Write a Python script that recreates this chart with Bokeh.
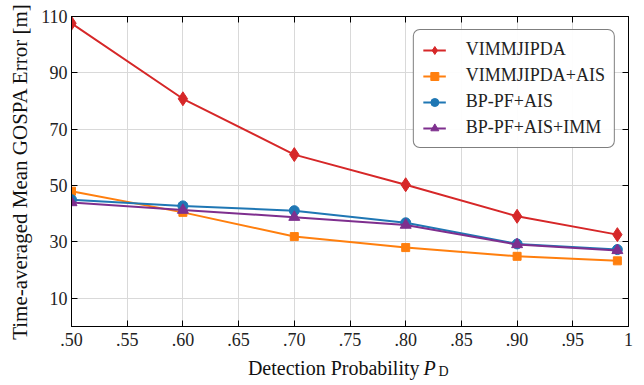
from bokeh.plotting import figure
from bokeh.models import FixedTicker, LinearAxis, Legend, LegendItem, Range1d
from bokeh.layouts import column
from bokeh.core.properties import value
from bokeh.embed import file_html
from bokeh.resources import INLINE

pd_vals = [0.50, 0.60, 0.70, 0.80, 0.90, 0.99]
vimmjipda = [107.6, 80.8, 61.0, 50.3, 39.1, 32.6]
vimmjipda_ais = [48.0, 40.5, 31.9, 28.0, 24.9, 23.3]
bppf_ais = [45.0, 42.8, 41.1, 36.8, 29.3, 27.3]
bppf_ais_imm = [44.0, 41.3, 38.8, 36.0, 29.1, 27.0]

series_labels = ["VIMMJIPDA", "VIMMJIPDA+AIS", "BP-PF+AIS", "BP-PF+AIS+IMM"]

x_ticks = [0.50, 0.55, 0.60, 0.65, 0.70, 0.75, 0.80, 0.85, 0.90, 0.95, 1.00]
x_tick_labels = [".50", ".55", ".60", ".65", ".70", ".75", ".80", ".85", ".90", ".95", "1"]
y_ticks = [10, 30, 50, 70, 90, 110]

x_label_parts = ["Detection Probability", "P", "D"]

FONT = "Liberation Serif"

p = figure(width=644, height=356, x_range=(0.5, 1.0), y_range=(0, 110), title=None,
           output_backend="svg", toolbar_location=None,
           min_border_left=71, min_border_right=16, min_border_top=16, min_border_bottom=30)

p.outline_line_color = "black"
p.outline_line_width = 1

p.xaxis.ticker = FixedTicker(ticks=x_ticks)
p.xaxis.major_label_overrides = {t: l for t, l in zip(x_ticks, x_tick_labels)}
p.yaxis.ticker = FixedTicker(ticks=y_ticks)

for ax in [p.xaxis[0], p.yaxis[0]]:
    ax.major_tick_in = 6
    ax.major_tick_out = 0
    ax.minor_tick_in = 0
    ax.minor_tick_out = 0
    ax.axis_line_color = "black"
    ax.major_tick_line_color = "black"
    ax.major_label_text_font = FONT
    ax.major_label_text_font_size = "18px"
    ax.major_label_text_color = "#222222"

p.xaxis.major_label_standoff = 6
p.yaxis.major_label_standoff = 4

p.yaxis.axis_label = "Time-averaged Mean GOSPA Error [m]"
p.yaxis.axis_label_text_font = FONT
p.yaxis.axis_label_text_font_size = "21px"
p.yaxis.axis_label_text_font_style = "normal"
p.yaxis.axis_label_text_color = "#111111"
p.yaxis.axis_label_standoff = 6

# top and right axes: inward ticks only
top = LinearAxis(ticker=FixedTicker(ticks=x_ticks),
                 major_label_overrides={t: "" for t in x_ticks},
                 major_tick_in=6, major_tick_out=0, minor_tick_in=0, minor_tick_out=0,
                 major_label_standoff=0)
right = LinearAxis(ticker=FixedTicker(ticks=y_ticks),
                   major_label_overrides={t: "" for t in y_ticks},
                   major_tick_in=6, major_tick_out=0, minor_tick_in=0, minor_tick_out=0,
                   major_label_standoff=0)
p.add_layout(top, "above")
p.add_layout(right, "right")

p.xgrid.ticker = FixedTicker(ticks=x_ticks)
p.ygrid.ticker = FixedTicker(ticks=y_ticks)
p.grid.grid_line_color = "#d9d9d9"
p.grid.grid_line_width = 1

red = "#d62728"
orange = "#ff7f0e"
blue = "#1f77b4"
purple = "#7e2f8e"

r1 = p.line(pd_vals, vimmjipda, line_color=red, line_width=2)
m1 = p.scatter(pd_vals, vimmjipda, marker="diamond", size=14, color=red)
r2 = p.line(pd_vals, vimmjipda_ais, line_color=orange, line_width=2)
m2 = p.scatter(pd_vals, vimmjipda_ais, marker="square", size=8, color=orange)
r3 = p.line(pd_vals, bppf_ais, line_color=blue, line_width=2)
m3 = p.scatter(pd_vals, bppf_ais, marker="circle", size=10, color=blue)
r4 = p.line(pd_vals, bppf_ais_imm, line_color=purple, line_width=2)
m4 = p.scatter(pd_vals, bppf_ais_imm, marker="triangle", size=11, color=purple)

legend = Legend(items=[
    LegendItem(label=series_labels[0], renderers=[r1, m1]),
    LegendItem(label=series_labels[1], renderers=[r2, m2]),
    LegendItem(label=series_labels[2], renderers=[r3, m3]),
    LegendItem(label=series_labels[3], renderers=[r4, m4]),
], location="top_right")
legend.label_text_font = FONT
legend.label_text_font_size = "18px"
legend.label_text_color = "#222222"
legend.border_line_color = "black"
legend.border_line_width = 1
legend.border_radius = 7
legend.padding = 9
legend.spacing = 5
legend.label_height = 20
legend.glyph_height = 20
legend.glyph_width = 23
legend.label_standoff = 20
legend.margin = 13
p.add_layout(legend, "center")

# strip below the plot carrying the x-axis title with italic P and subscript D
p2 = figure(width=644, height=29, x_range=Range1d(0.5, 1.0), y_range=Range1d(29, 0),
            title=None, output_backend="svg", toolbar_location=None,
            min_border_left=71, min_border_right=16, min_border_top=0, min_border_bottom=0)
p2.axis.visible = False
p2.grid.visible = False
p2.outline_line_color = None

p2.text(x=[0.8124], y=[11], text=[x_label_parts[0]], text_align="right",
        text_baseline="middle", text_font=value(FONT), text_font_size="20px",
        text_color="#111111")
p2.text(x=[0.8160], y=[11], text=[x_label_parts[1]], text_align="left",
        text_baseline="middle", text_font=value(FONT), text_font_size="20px",
        text_font_style="italic", text_color="#111111")
p2.text(x=[0.8295], y=[15], text=[x_label_parts[2]], text_align="left",
        text_baseline="middle", text_font=value(FONT), text_font_size="14px",
        text_color="#111111")

layout = column(p, p2, spacing=0)

open("out.html", "w").write(file_html(layout, INLINE))
